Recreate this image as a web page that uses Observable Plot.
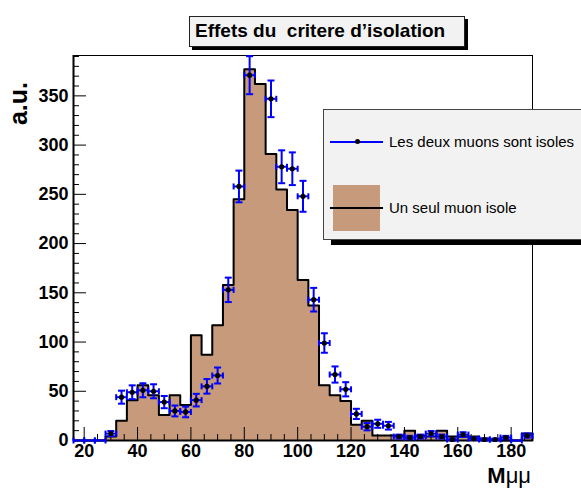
<!DOCTYPE html>
<html>
<head>
<meta charset="utf-8">
<script src="https://cdn.jsdelivr.net/npm/d3@7"></script>
<script src="https://cdn.jsdelivr.net/npm/@observablehq/plot@0.6"></script>
<style>
  body { margin: 0; background: #fff; overflow: hidden; }
  #wrap { position: relative; width: 581px; height: 492px; overflow: hidden;
          font-family: "Liberation Sans", Arial, Helvetica, sans-serif; color: #000; }
  #chart { position: absolute; left: 0; top: 0; }
  #chart svg text { font-weight: bold; }
  .title { position: absolute; left: 189px; top: 16px; width: 276px; height: 31px;
           background: #f2f2f2; border: 1px solid #222; box-sizing: border-box;
           box-shadow: 3px 3px 0 #000; font-weight: bold; font-size: 19px;
           line-height: 28px; white-space: pre; padding-left: 5px; }
  .legend { position: absolute; left: 323px; top: 109px; width: 300px; height: 131px;
            background: #f2f2f2; border: 1px solid #444; box-sizing: border-box;
            box-shadow: 8px 5px 0 #000; }
  .lg-text { position: absolute; font-size: 15px; white-space: nowrap; }
  .ylab { position: absolute; left: 0; top: 0; font-weight: bold; font-size: 25px;
          transform-origin: 0 0; white-space: nowrap;
          transform: translate(18px, 82px) rotate(-90deg) translate(-100%, -50%); }
  .xlab { position: absolute; right: 50px; top: 463px; font-size: 22px; white-space: nowrap; }
</style>
</head>
<body>
<div id="wrap">
  <div id="chart"></div>
  <div class="title">Effets du  critere d’isolation</div>
  <div class="legend" id="legend"></div>
  <div class="ylab">a.u.</div>
  <div class="xlab"><b>M</b>μμ</div>
</div>
<script>
// ---- data ----
const binEdges = [16,20,24,28,32,36,40,44,48,52,56,60,64,68,72,76,80,84,88,92,96,100,104,108,112,116,120,124,128,132,136,140,144,148,152,156,160,164,168,172,176,180,184,188];

// "Un seul muon isole" (filled histogram)
const singleIso = [0,0,0,4,20,41,56,46,26,46,36,107,87,117,158,245,377,362,291,255,234,163,137,56,46,40,16,20,5,5,5,10,5,4,10,4,4,4,2,1,0,0,7];

// "Les deux muons sont isoles" (points with error bars)
const bothIso = [0,0,0,7,44,49,51,50,39,30,29,41,55,66,153,258,371,null,347,278,276,248,143,99,67,52,27,14,17,15,4,3,4,7,4,1,6,2,1,1,3,0,5];
const bothErr = [0,0,0,2.6,6.6,7,7.1,7.1,6.2,5.5,5.4,6.4,7.4,8.1,12.4,16.1,19.3,0,18.6,16.7,16.6,15.7,12,9.9,8.2,7.2,5.2,3.7,4.1,3.9,2,1.7,2,2.6,2,1,2.4,1.4,1,1,1.7,0,2.2];

const xMajor = [20,40,60,80,100,120,140,160,180];
const yMajor = [0,50,100,150,200,250,300,350];
const xMinor = d3.range(20, 188, 5).filter(v => v % 20 !== 0);
const yMinor = d3.range(0, 391, 10).filter(v => v % 50 !== 0);

const legendLabels = ["Les deux muons sont isoles", "Un seul muon isole"];

// ---- layout ----
const W = 581, H = 492, mL = 73, mR = 49, mT = 55, mB = 52;
const frameW = W - mL - mR, frameH = H - mT - mB;
const brown = "#c69a7b", blue = "#0000ff";

const bins = singleIso.map((v, i) => ({
  lo: binEdges[i], hi: binEdges[i + 1], mid: (binEdges[i] + binEdges[i + 1]) / 2,
  single: v, both: bothIso[i], err: bothErr[i]
}));
const n = bins.length;
const stepPts = [{x: binEdges[0], y: 0}, ...bins.map(b => ({x: b.lo, y: b.single})),
  {x: binEdges[n], y: singleIso[n - 1]}, {x: binEdges[n], y: 0}];

const pts = bins.filter(b => b.both != null);
const ptsErr = pts.filter(b => b.err > 0);

const hLine = {draw(ctx, size) { const r = Math.sqrt(size / Math.PI); ctx.moveTo(-r, 0); ctx.lineTo(r, 0); }};
const vLine = {draw(ctx, size) { const r = Math.sqrt(size / Math.PI); ctx.moveTo(0, -r); ctx.lineTo(0, r); }};

const chart = Plot.plot({
  width: W, height: H,
  marginLeft: mL, marginRight: mR, marginTop: mT, marginBottom: mB,
  style: {fontFamily: '"Liberation Sans", Arial, Helvetica, sans-serif', fontSize: "18px", background: "transparent"},
  x: {domain: [16, 188], label: null},
  y: {domain: [0, 391], label: null},
  marks: [
    Plot.areaY(stepPts, {x: "x", y: "y", curve: "step-after", fill: brown}),
    Plot.line(stepPts, {x: "x", y: "y", curve: "step-after", stroke: "#000", strokeWidth: 2}),
    Plot.frame({stroke: "#000", strokeWidth: 1}),
    Plot.ruleX([16], {stroke: "#000", strokeWidth: 2}),
    Plot.ruleY([0], {stroke: "#000", strokeWidth: 2}),
    Plot.ruleY(yMajor, {y: d => d, insetRight: frameW - 13, stroke: "#000", strokeWidth: 1}),
    Plot.ruleY(yMinor, {y: d => d, insetRight: frameW - 6, stroke: "#000", strokeWidth: 1}),
    Plot.ruleX(xMajor, {x: d => d, insetTop: frameH - 13, stroke: "#000", strokeWidth: 1}),
    Plot.ruleX(xMinor, {x: d => d, insetTop: frameH - 6, stroke: "#000", strokeWidth: 1}),
    Plot.axisY(yMajor, {tickSize: 0, tickPadding: 5, fontSize: 18, fontWeight: "bold", label: null}),
    Plot.axisX(xMajor, {tickSize: 0, tickPadding: 4, fontSize: 18, fontWeight: "bold", label: null}),
    // error bars
    Plot.ruleY(pts, {y: "both", x1: "lo", x2: "hi", stroke: blue, strokeWidth: 2}),
    Plot.dot(pts, {x: "lo", y: "both", symbol: vLine, r: 3, stroke: blue, strokeWidth: 2}),
    Plot.dot(pts, {x: "hi", y: "both", symbol: vLine, r: 3, stroke: blue, strokeWidth: 2}),
    Plot.ruleX(ptsErr, {x: "mid", y1: d => d.both - d.err, y2: d => d.both + d.err, stroke: blue, strokeWidth: 2}),
    Plot.dot(ptsErr, {x: "mid", y: d => d.both - d.err, symbol: hLine, r: 3.5, stroke: blue, strokeWidth: 2}),
    Plot.dot(ptsErr, {x: "mid", y: d => d.both + d.err, symbol: hLine, r: 3.5, stroke: blue, strokeWidth: 2}),
    Plot.dot(pts.filter(d => d.both > 0), {x: "mid", y: "both", r: 2.6, fill: "#000", stroke: "none"})
  ]
});
document.getElementById("chart").appendChild(chart);

// legend
const lg = document.getElementById("legend");
const add = (html) => { lg.insertAdjacentHTML("beforeend", html); };
// entry 1: line + marker (coords relative to legend box, box at 323,109 with 1px border)
add(`<div style="position:absolute;left:6px;top:31px;width:53px;height:2px;background:${blue}"></div>`);
add(`<div style="position:absolute;left:31px;top:29px;width:5px;height:5px;border-radius:50%;background:#000"></div>`);
add(`<div class="lg-text" style="left:65px;top:23px;">${legendLabels[0]}</div>`);
// entry 2: filled box + line
add(`<div style="position:absolute;left:9px;top:75px;width:47px;height:46px;background:${brown}"></div>`);
add(`<div style="position:absolute;left:6px;top:97px;width:53px;height:2px;background:#000"></div>`);
add(`<div class="lg-text" style="left:65px;top:89px;">${legendLabels[1]}</div>`);
</script>
</body>
</html>
